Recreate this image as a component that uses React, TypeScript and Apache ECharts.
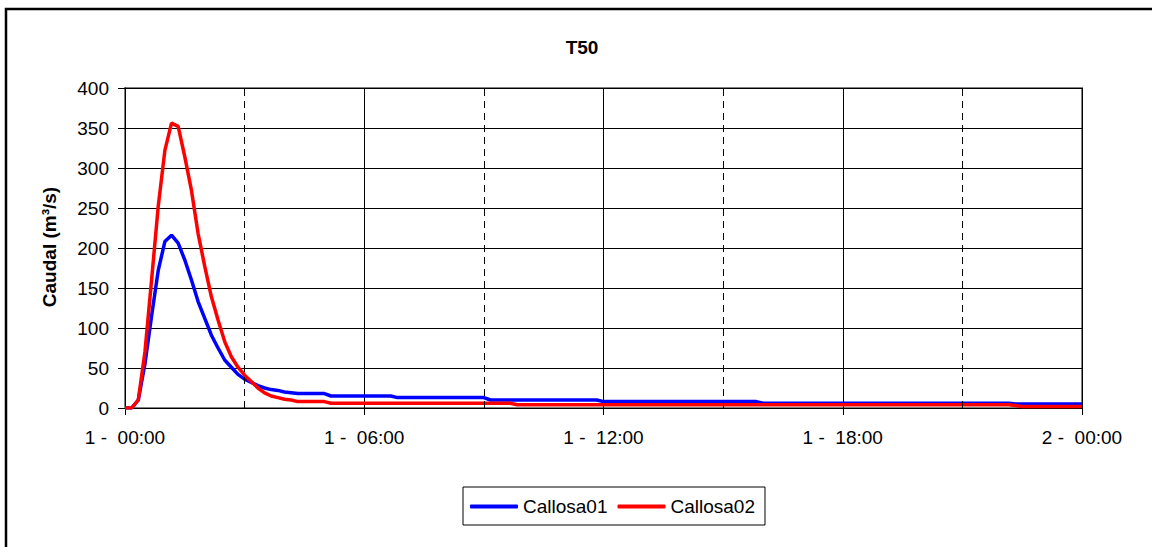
import React, { useEffect, useRef } from "react";
import * as echarts from "echarts";

const chartTitle = "T50";
const yAxisTitle = "Caudal (m³/s)";
const seriesNames = ["Callosa01", "Callosa02"];
const xTickLabels = ["1 -  00:00", "1 -  06:00", "1 -  12:00", "1 -  18:00", "2 -  00:00"];
const dashedGridHours = [3, 9, 15, 21];

// minutes since start, value in m3/s
const callosa01Minutes = [0, 10, 20, 30, 40, 50, 60, 70, 80, 90, 100, 110, 120, 130, 140, 150, 160, 170, 180, 190, 200, 210, 220, 230, 240, 250, 260, 300, 310, 400, 410, 540, 550, 710, 720, 950, 960, 1330, 1340, 1440];
const callosa01Values = [0, 0, 10, 55, 115, 172, 208, 216, 206, 185, 160, 133, 112, 91, 75, 60, 51, 42, 36, 32, 28, 25, 23, 22, 20, 19, 18, 18, 15, 15, 13, 13, 10, 10, 8, 8, 6, 6, 5, 5];

const callosa02Minutes = [0, 10, 20, 30, 40, 50, 60, 70, 80, 90, 100, 110, 120, 130, 140, 150, 160, 170, 180, 190, 200, 210, 220, 230, 240, 250, 260, 300, 310, 580, 590, 1330, 1340, 1350, 1440];
const callosa02Values = [0, 0, 10, 70, 160, 252, 322, 356, 352, 314, 272, 218, 177, 139, 110, 83, 64, 51, 41, 33, 25, 19, 15, 13, 11, 10, 8, 8, 6, 6, 4, 4, 3, 2, 2];

const FONT = '"Liberation Sans", Arial, sans-serif';

export default function App() {
  const ref = useRef<HTMLDivElement>(null);
  useEffect(() => {
    if (!ref.current) return;
    const chart = echarts.init(ref.current, null, { renderer: "svg" });
    const toPairs = (mins: number[], vals: number[]) => mins.map((m, i) => [m / 60, vals[i]]);
    chart.setOption({
      animation: false,
      backgroundColor: "#fff",
      textStyle: { fontFamily: FONT },
      grid: {
        left: 125,
        right: 70,
        top: 88,
        bottom: 139,
        show: true,
        borderColor: "#808080",
        borderWidth: 2,
        backgroundColor: "transparent",
      },
      graphic: [
        {
          type: "rect",
          shape: { x: 6, y: 9, width: 1200, height: 600 },
          style: { fill: "none", stroke: "#000", lineWidth: 2.5 },
          silent: true,
        },
        {
          type: "text",
          x: 582,
          y: 47,
          style: { text: chartTitle, font: `bold 19px ${FONT}`, fill: "#000", align: "center", verticalAlign: "middle" },
        },
        {
          type: "text",
          x: 49,
          y: 247,
          rotation: Math.PI / 2,
          style: { text: yAxisTitle, font: `bold 19px ${FONT}`, fill: "#000", align: "center", verticalAlign: "middle" },
        },
      ],
      legend: {
        left: 463,
        top: 487,
        orient: "horizontal",
        padding: [10, 10, 9, 7],
        borderColor: "#000",
        borderWidth: 1,
        itemWidth: 48,
        itemHeight: 4,
        itemGap: 10,
        icon: "roundRect",
        textStyle: { fontSize: 19, color: "#000", fontFamily: FONT },
        data: seriesNames,
      },
      xAxis: {
        type: "value",
        min: 0,
        max: 24,
        interval: 6,
        axisLine: { show: true, onZero: false, lineStyle: { color: "#000", width: 1 } },
        axisTick: { show: true, length: 7, inside: false, lineStyle: { color: "#000" } },
        axisLabel: {
          margin: 20,
          fontSize: 19,
          color: "#000",
          fontFamily: FONT,
          formatter: (v: number) => xTickLabels[Math.round(v / 6)] ?? "",
        },
        splitLine: { show: true, lineStyle: { color: "#000", width: 1 } },
      },
      yAxis: {
        type: "value",
        min: 0,
        max: 400,
        interval: 50,
        axisLine: { show: true, lineStyle: { color: "#000", width: 1 } },
        axisTick: { show: true, length: 7, lineStyle: { color: "#000" } },
        axisLabel: { margin: 16, fontSize: 19, color: "#000", fontFamily: FONT },
        splitLine: { show: true, lineStyle: { color: "#000", width: 1 } },
      },
      series: [
        {
          name: seriesNames[0],
          type: "line",
          data: toPairs(callosa01Minutes, callosa01Values),
          showSymbol: false,
          symbol: "none",
          lineStyle: { color: "#0000ff", width: 3.5 },
          itemStyle: { color: "#0000ff" },
          markLine: {
            silent: true,
            symbol: ["none", "none"],
            label: { show: false },
            lineStyle: { color: "#000", type: [7, 5], width: 1 },
            data: dashedGridHours.map((h) => ({ xAxis: h })),
          },
        },
        {
          name: seriesNames[1],
          type: "line",
          data: toPairs(callosa02Minutes, callosa02Values),
          showSymbol: false,
          symbol: "none",
          lineStyle: { color: "#ff0000", width: 3.5 },
          itemStyle: { color: "#ff0000" },
        },
      ],
    });
    return () => chart.dispose();
  }, []);
  return (
    <div
      ref={ref}
      style={{ position: "absolute", left: 0, top: 0, width: 1152, height: 547, background: "#fff" }}
    />
  );
}
